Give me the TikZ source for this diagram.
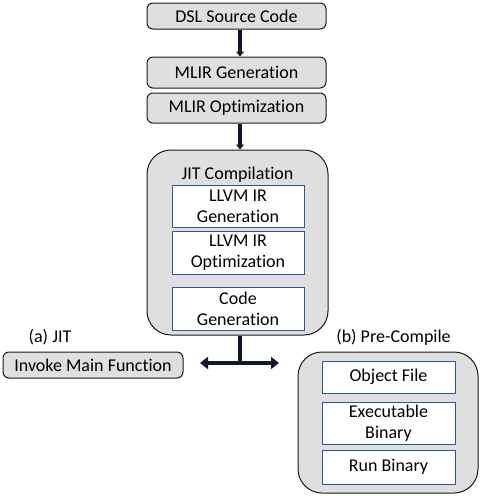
\documentclass[tikz,border=0pt]{standalone}
\usepackage{fontspec}
\setmainfont{Carlito}[Ligatures=NoCommon]
\usetikzlibrary{arrows.meta}
\definecolor{boxgray}{HTML}{DFDFDF}
\definecolor{boxblue}{HTML}{2F5597}
\definecolor{edgec}{HTML}{1A1A1A}
\definecolor{connc}{HTML}{101830}
\tikzset{
  txt/.style={font=\fontsize{18}{21}\selectfont},
  graybox/.style={txt, draw=edgec, fill=boxgray, rounded corners=6pt, line width=1pt, inner sep=0pt},
  bigbox/.style={draw=edgec, fill=boxgray, rounded corners=24pt, line width=1pt, inner sep=0pt},
  whitebox/.style={txt, draw=boxblue, fill=white, line width=1pt, align=center, inner sep=0pt},
  lbl/.style={txt, inner sep=0pt},
  conn/.style={line width=3.2pt, draw=connc},
  tip/.style={-{Triangle[length=5pt,width=8pt]}},
  bitip/.style={{Triangle[length=8pt,width=12pt]}-{Triangle[length=8pt,width=12pt]}},
}
\begin{document}
\begin{tikzpicture}[x=1pt,y=-1pt]
\useasboundingbox (0,0) rectangle (480,496);

\node[graybox, minimum width=179pt, minimum height=26pt] (dsl) at (236.5,16) {DSL Source Code};
\node[graybox, minimum width=179pt, minimum height=31pt] (mgen) at (236.5,72.5) {MLIR Generation};
\node[graybox, minimum width=179pt, minimum height=30pt] (mopt) at (236.5,108) {MLIR Optimization};

\node[bigbox, minimum width=181pt, minimum height=185pt] (jit) at (237.5,242.5) {};
\node[lbl] (jitt) at (237.5,175) {JIT Compilation};
\node[whitebox, minimum width=132pt, minimum height=42pt] (lgen) at (238,206) {LLVM IR\\Generation};
\node[whitebox, minimum width=132pt, minimum height=43pt] (lopt) at (238,252.5) {LLVM IR\\Optimization};
\node[whitebox, minimum width=132pt, minimum height=43pt] (cgen) at (238,308.5) {Code\\Generation};

\node[lbl] (lja) at (50,337) {(a) JIT};
\node[graybox, minimum width=180pt, minimum height=26pt] (inv) at (93,365) {Invoke Main Function};

\node[lbl] (ljb) at (393.5,337) {(b) Pre-Compile};
\node[bigbox, minimum width=180pt, minimum height=141pt] (pre) at (388,422.5) {};
\node[whitebox, minimum width=133pt, minimum height=32pt] (obj) at (388.5,377) {Object File};
\node[whitebox, minimum width=133pt, minimum height=42pt] (exe) at (388.5,423) {Executable\\Binary};
\node[whitebox, minimum width=133pt, minimum height=34pt] (run) at (388.5,467) {Run Binary};

\coordinate (ax) at (240,0);
\coordinate (tj) at (240,363);
\coordinate (tl) at (200,363);
\coordinate (tr) at (279,363);

\draw[conn, tip] (dsl.south -| ax) -- (mgen.north -| ax);
\draw[conn, tip] (mopt.south -| ax) -- (jit.north -| ax);
\draw[conn] (jit.south -| ax) -- ([yshift=1.6pt]tj);
\draw[conn, bitip] (tl) -- (tr);
\end{tikzpicture}
\end{document}
